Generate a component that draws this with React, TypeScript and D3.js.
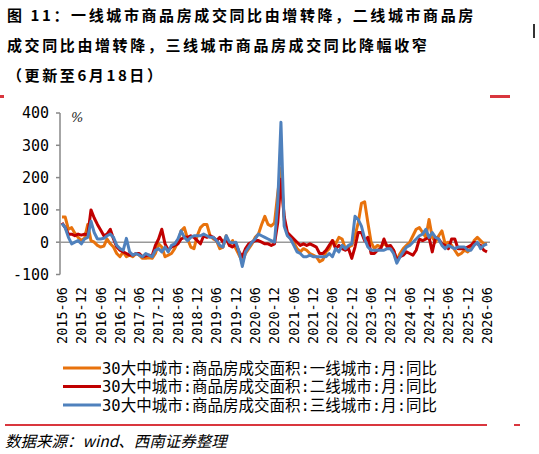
import React from 'react'
import * as d3 from 'd3'

// monthly YoY (%), 2015-06 .. 2026-06
const tier1 = [
  78, 78, 40, 45, 28, 15, 5, 12, 55, 5, 0, -10, -15, -12, 10, -5, -15, -35, -45, -30,
  -45, -40, -45, -35, -40, -50, -50, -48, -50, -35, -5, -15, -45, -40, -35, -20, 0, 35, 45, 10,
  -15, -20, 20, 45, 55, 55, 20, 10, 5, -20, -15, 20, -10, 5, -20, -40, -60, -35, -20, -5,
  15, 25, 55, 80, 55, 50, 60, 150, 230, 70, 25, 10, 0, -20, -30, -20, -25, -35, -40, -45,
  -60, -55, -30, -20, 5, -5, 15, 10, -20, -15, -10, 20, 60, 120, 125, 60, 0, -20, -10, -15,
  -5, -10, -15, -25, -55, -35, -20, -10, 0, 20, 40, 45, 30, 15, 70, 15, 0, 20, 35, -5,
  0, -10, -25, -40, -35, -25, -30, -20, 5, 15, 5, -5, -5,
]
const tier2 = [
  60, 45, 25, 25, 20, 25, 22, 25, 22, 100, 75, 55, 38, 20, 25, 40, 10, -15, -25, -30,
  -35, -40, -40, -35, -35, -45, -42, -40, -42, -10, 10, 40, -5, -25, -15, -10, -5, 10, 15, 15,
  20, 15, 5, -5, 20, 15, 20, 15, 5, 15, 0, 10, -10, -15, -5, -30, -45, -20, -5, 0,
  5, 5, 0, -5, -5, -10, -5, 60, 195, 80, 30, 20, 10, 0, -10, -5, -10, -5, -10, -15,
  -35, -35, -25, -10, 5, -20, -10, -20, -25, -20, -50, -15, 30, 30, 5, 15, -35, -35, -25, -20,
  10, -15, -10, -25, -55, -45, -40, -30, -35, -40, -25, 10, 5, 10, 15, -30, 15, 10, -5, -10,
  -20, 10, 10, -20, -20, -20, -15, -10, 0, -5, -10, -25, -30,
]
const tier3 = [
  58, 45, 15, -5, 0, 5, -5, 10, 15, 65, 30, 10, 10, 12, 20, 25, 15, -10, -20, -25,
  12, -30, -40, -35, -40, -45, -35, -40, -45, -25, -20, -30, -15, -30, -10, -5, 10, 35, 15, 5,
  15, 20, 20, 20, 25, 20, 15, 15, 5, -10, -15, 20, 0, -2, 0, -30, -75, -30, -15, 0,
  10, 25, 20, 15, 10, 5, 0, 120, 371, 50, 20, 10, -10, -30, -35, -45, -45, -40, -45, -45,
  -45, -45, -45, -35, -45, -20, -30, -10, -20, -10, -5, 80, 70, 50, 10, -15, -25, -25, -25, -25,
  -25, -20, -20, -35, -65, -45, -30, -15, -10, 0, 10, 20, 25, 40, 15, 30, 15, 10, -10, -20,
  -10, -15, -20, -15, -15, -15, -25, -25, -10, 0, -20, -10, -5,
]

const seriesNames = [
  '30大中城市:商品房成交面积:一线城市:月:同比',
  '30大中城市:商品房成交面积:二线城市:月:同比',
  '30大中城市:商品房成交面积:三线城市:月:同比',
]
const colors = ['#E8720C', '#C00000', '#4F81BD']
const yTicks = [-100, 0, 100, 200, 300, 400]
const startMonth = new Date(2015, 5, 1)

const titleLines = [
  '图 11：一线城市商品房成交同比由增转降，二线城市商品房',
  '成交同比由增转降，三线城市商品房成交同比降幅收窄',
  '（更新至6月18日）',
]
const source = '数据来源：wind、西南证券整理'

const mono = '"DejaVu Sans Mono", "Noto Sans CJK SC", monospace'
const cjk = '"Noto Sans CJK SC", "DejaVu Sans", sans-serif'

export default function App() {
  const n = tier1.length
  const x = d3.scaleLinear().domain([0, n - 1]).range([62, 487])
  const y = d3.scaleLinear().domain([-100, 400]).range([274.5, 113])
  const line = d3
    .line<number>()
    .x((d, i) => x(i))
    .y(d => y(d))
  const fmt = d3.timeFormat('%Y-%m')
  const tickIdx = d3.range(0, n, 6)

  return (
    <svg
      width={539}
      height={454}
      style={{position: 'absolute', left: 0, top: 0, background: '#fff'}}
    >
      {titleLines.map((t, i) => (
        <text
          key={i}
          x={7}
          y={21 + i * 30}
          fontSize={15}
          fontWeight="bold"
          letterSpacing={2.6}
          fontFamily={cjk}
          fill="#000"
        >
          {t}
        </text>
      ))}
      <rect x={0} y={95} width={4} height={3} fill="#d9363e" />
      <rect x={490} y={95} width={20} height={3} fill="#d9363e" />
      <rect x={533} y={24} width={2} height={14} fill="#333" />

      {/* y axis */}
      <line x1={60} x2={60} y1={y(400)} y2={y(-100)} stroke="#888" strokeWidth={1.5} />
      {yTicks.map(t => (
        <g key={t}>
          <line x1={56} x2={60} y1={y(t)} y2={y(t)} stroke="#888" strokeWidth={1.5} />
          <text x={49} y={y(t)} dy="0.36em" textAnchor="end" fontSize={15} fontFamily={mono} fill="#000">
            {t}
          </text>
        </g>
      ))}
      <text x={71} y={122} fontSize={13} fontFamily='"DejaVu Serif", serif' fontStyle="italic" fill="#222">
        %
      </text>
      <line x1={60} x2={490} y1={y(0)} y2={y(0)} stroke="#999" strokeWidth={1.5} />

      {/* x labels */}
      {tickIdx.map(i => (
        <text
          key={i}
          transform={`translate(${x(i)},287) rotate(-90)`}
          dy="0.36em"
          textAnchor="end"
          fontSize={13.5}
          fontFamily={mono}
          fill="#000"
        >
          {fmt(d3.timeMonth.offset(startMonth, i))}
        </text>
      ))}

      {[tier1, tier2, tier3].map((s, k) => (
        <path
          key={k}
          d={line(s) || ''}
          fill="none"
          stroke={colors[k]}
          strokeWidth={3}
          strokeLinejoin="round"
        />
      ))}

      {/* legend */}
      {seriesNames.map((name, k) => (
        <g key={k} transform={`translate(0,${368 + k * 18.5})`}>
          <line x1={63} x2={101} y1={0} y2={0} stroke={colors[k]} strokeWidth={3} />
          <text x={102} y={0} dy="0.36em" fontSize={15.5} fontFamily={mono} fill="#000">
            {name}
          </text>
        </g>
      ))}

      <rect x={5} y={424} width={482} height={2} fill="#d9363e" />
      <rect x={514} y={424} width={6} height={2} fill="#d9363e" />
      <text x={5} y={447} fontSize={15.5} fontStyle="italic" fontFamily={cjk} fill="#000">
        {source}
      </text>
    </svg>
  )
}
